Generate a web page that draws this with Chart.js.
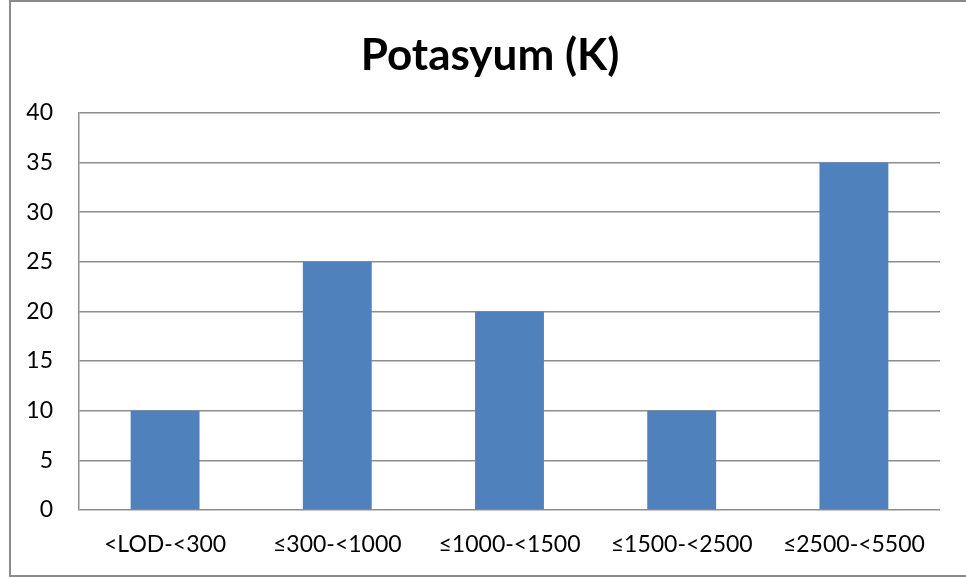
<!DOCTYPE html>
<html>
<head>
<meta charset="utf-8">
<script src="https://cdn.jsdelivr.net/npm/chart.js@4/dist/chart.umd.min.js"></script>
<style>
  html, body { margin: 0; padding: 0; background: #fff; }
  #wrap { width: 966px; height: 578px; position: relative; }
</style>
</head>
<body>
<div id="wrap"><canvas id="potChart" width="966" height="578"></canvas></div>
<script>
// data
const categories = ['<LOD-<300', '≤300-<1000', '≤1000-<1500', '≤1500-<2500', '≤2500-<5500'];
const counts = [10, 25, 20, 10, 35];
const titleText = 'Potasyum (K)';

const fontFam = "Lato, 'Open Sans', sans-serif";

// outer frame like the office chart border
const framePlugin = {
    id: 'frame',
    afterLayout(chart) {
        // title in the original sits a bit right of centre
        if (chart.titleBlock) chart.titleBlock.left = 40;
    },
    beforeDraw(chart) {
        const ctx = chart.ctx;
        ctx.save();
        ctx.fillStyle = '#fff';
        ctx.fillRect(0, 0, chart.width, chart.height);
        ctx.strokeStyle = '#8a8a8a';
        ctx.lineWidth = 2;
        ctx.strokeRect(10, 1, 1000, 575);
        ctx.restore();
    }
};

const ctx = document.getElementById('potChart').getContext('2d');
new Chart(ctx, {
    type: 'bar',
    data: {
        labels: categories,
        datasets: [{
            data: counts,
            backgroundColor: '#4F81BD',
            borderWidth: 0,
            barPercentage: 0.4,
            categoryPercentage: 1
        }]
    },
    options: {
        responsive: false,
        animation: false,
        layout: { padding: { left: 0, right: 26, top: 0, bottom: 0 } },
        plugins: {
            legend: { display: false },
            tooltip: { enabled: false },
            title: {
                display: true,
                text: titleText,
                color: '#000',
                font: { family: fontFam, size: 44, weight: 'bold' },
                padding: { top: 29, bottom: 31 }
            }
        },
        scales: {
            x: {
                grid: { display: false, drawTicks: false },
                border: { display: false },
                ticks: { color: '#000', font: { family: fontFam, size: 23 }, padding: 21, maxRotation: 0 },
                afterFit(scale) { scale.height = 68; }
            },
            y: {
                min: 0,
                max: 40,
                ticks: { stepSize: 5, color: '#000', font: { family: fontFam, size: 23 }, padding: 26 },
                grid: { color: '#8e8e8e', lineWidth: 1.5, drawTicks: false },
                border: { display: true, color: '#8e8e8e', width: 1.5 },
                afterFit(scale) { scale.width = 79; }
            }
        }
    },
    plugins: [framePlugin]
});
</script>
</body>
</html>
